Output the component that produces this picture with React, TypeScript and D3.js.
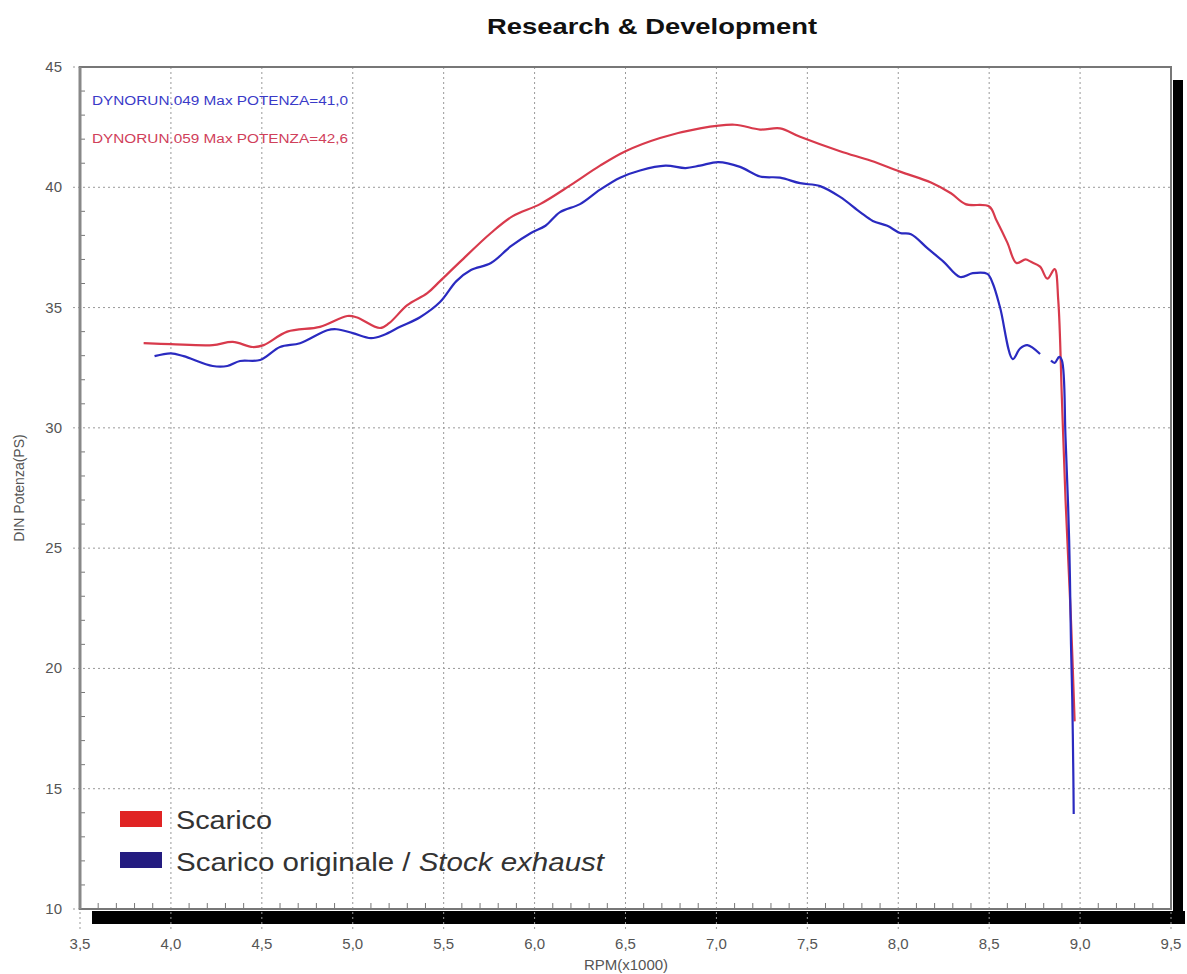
import React from "react";
import * as d3 from "d3";

const title = "Research & Development";
const xLabel = "RPM(x1000)";
const yLabel = "DIN Potenza(PS)";
const xTicks = [3.5, 4.0, 4.5, 5.0, 5.5, 6.0, 6.5, 7.0, 7.5, 8.0, 8.5, 9.0, 9.5];
const yTicks = [10, 15, 20, 25, 30, 35, 40, 45];
const annotations = ["DYNORUN.049  Max POTENZA=41,0", "DYNORUN.059  Max POTENZA=42,6"];
const legendNames = ["Scarico", "Scarico originale / ", "Stock exhaust"];

// Scarico (red)
const redRpm = [3.85, 4.0, 4.23, 4.34, 4.45, 4.51, 4.64, 4.82, 4.97, 5.02, 5.15, 5.2, 5.3, 5.41, 5.48, 5.59, 5.76, 5.88, 6.03, 6.2, 6.36, 6.5, 6.69, 6.91, 7.1, 7.24, 7.35, 7.46, 7.68, 7.85, 8.01, 8.18, 8.29, 8.37, 8.5, 8.54, 8.6, 8.65, 8.7, 8.73, 8.78, 8.82, 8.86, 8.88, 8.9, 8.92, 8.95, 8.97];
const redPs = [33.52, 33.48, 33.44, 33.57, 33.36, 33.44, 34.0, 34.2, 34.65, 34.6, 34.15, 34.35, 35.1, 35.6, 36.1, 36.9, 38.1, 38.8, 39.3, 40.1, 40.9, 41.5, 42.05, 42.45, 42.6, 42.4, 42.45, 42.1, 41.5, 41.1, 40.65, 40.2, 39.75, 39.3, 39.2, 38.63, 37.7, 36.85, 37.0, 36.9, 36.7, 36.2, 36.6, 35.3, 31.2, 27.0, 22.0, 17.8];

// Scarico originale (blue), first segment
const blueRpm1 = [3.91, 4.0, 4.07, 4.23, 4.31, 4.38, 4.49, 4.6, 4.71, 4.86, 4.91, 5.0, 5.1, 5.17, 5.26, 5.37, 5.48, 5.57, 5.65, 5.76, 5.87, 5.98, 6.06, 6.14, 6.25, 6.36, 6.47, 6.58, 6.72, 6.83, 6.91, 7.01, 7.13, 7.24, 7.35, 7.46, 7.57, 7.68, 7.79, 7.86, 7.94, 8.01, 8.07, 8.16, 8.25, 8.34, 8.41, 8.49, 8.52, 8.56, 8.63, 8.67, 8.71, 8.78];
const bluePs1 = [32.98, 33.1, 32.98, 32.57, 32.57, 32.78, 32.82, 33.36, 33.52, 34.06, 34.1, 33.94, 33.73, 33.86, 34.2, 34.6, 35.23, 36.1, 36.56, 36.85, 37.55, 38.1, 38.4, 38.97, 39.3, 39.9, 40.4, 40.7, 40.9, 40.8, 40.9, 41.05, 40.85, 40.45, 40.4, 40.17, 40.05, 39.6, 38.97, 38.6, 38.4, 38.1, 38.05, 37.47, 36.9, 36.27, 36.43, 36.4, 36.0, 35.0, 32.86, 33.3, 33.44, 33.07];
// second segment
const blueRpm2 = [8.84, 8.86, 8.885, 8.9, 8.92, 8.94, 8.95, 8.957, 8.963, 8.965];
const bluePs2 = [32.8, 32.7, 32.95, 32.8, 29.6, 25.3, 21.0, 18.7, 15.5, 13.95];

const W = 1187, H = 974;
const L = 80, R = 1171, T = 67, B = 909;

export default function App() {
  const x = d3.scaleLinear().domain([3.5, 9.5]).range([L, R]);
  const y = d3.scaleLinear().domain([10, 45]).range([B, T]);
  const line = d3
    .line<[number, number]>()
    .x((d) => x(d[0]))
    .y((d) => y(d[1]))
    .curve(d3.curveCatmullRom.alpha(0.5));
  const red = redRpm.map((r, i) => [r, redPs[i]] as [number, number]);
  const blue1 = blueRpm1.map((r, i) => [r, bluePs1[i]] as [number, number]);
  const blue2 = blueRpm2.map((r, i) => [r, bluePs2[i]] as [number, number]);
  const minorX = d3.range(35, 96).map((v) => v / 10).filter((v) => Math.abs(v * 2 - Math.round(v * 2)) > 1e-6);
  const minorY = d3.range(10, 46).filter((v) => v % 5 !== 0);
  const font = "'Liberation Sans', Arial, sans-serif";

  return (
    <svg width={W} height={H} style={{ position: "absolute", left: 0, top: 0, background: "#fff" }} fontFamily={font}>
      <rect x={0} y={0} width={W} height={H} fill="#fff" />
      <text x={487} y={34} fontSize={22} fontWeight="bold" fill="#111" textLength={330} lengthAdjust="spacingAndGlyphs">{title}</text>

      {/* shadow */}
      <rect x={x(3.5) + 12} y={B + 2} width={R - L + 2} height={13} fill="#000" />
      <rect x={R + 2} y={T + 13} width={10} height={B - T + 2} fill="#000" />

      {/* grid */}
      {xTicks.map((t) => (
        <line key={"gx" + t} x1={x(t)} x2={x(t)} y1={T} y2={B + 22} stroke="#999" strokeWidth={1} strokeDasharray="2,3" />
      ))}
      {yTicks.map((t) => (
        <line key={"gy" + t} x1={L - 7} x2={R} y1={y(t)} y2={y(t)} stroke="#999" strokeWidth={1} strokeDasharray="2,3" />
      ))}

      {/* minor ticks */}
      {minorX.map((t) => (
        <line key={"mx" + t} x1={x(t)} x2={x(t)} y1={B} y2={B - 6} stroke="#777" strokeWidth={1} />
      ))}
      {minorY.map((t) => (
        <line key={"my" + t} x1={L} x2={L + 5} y1={y(t)} y2={y(t)} stroke="#777" strokeWidth={1} />
      ))}

      {/* frame */}
      <rect x={L} y={T} width={R - L} height={B - T} fill="none" stroke="#777" strokeWidth={2} />
      <line x1={L} x2={L} y1={T} y2={B} stroke="#888" strokeWidth={3} />

      {/* tick labels */}
      {yTicks.map((t) => (
        <text key={"yl" + t} x={62} y={y(t) + 5} textAnchor="end" fontSize={15} fill="#555">{t}</text>
      ))}
      {xTicks.map((t) => (
        <text key={"xl" + t} x={x(t)} y={949} textAnchor="middle" fontSize={15} fill="#555">{t.toFixed(1).replace(".", ",")}</text>
      ))}
      <text x={626} y={970} textAnchor="middle" fontSize={15} fill="#555">{xLabel}</text>
      <text transform={`translate(24,${y(27.5)}) rotate(-90)`} textAnchor="middle" fontSize={14} fill="#555">{yLabel}</text>

      {/* annotations */}
      <text x={92} y={105} fontSize={12} fill="#3a3ac8" textLength={256} lengthAdjust="spacingAndGlyphs">{annotations[0]}</text>
      <text x={92} y={143} fontSize={12} fill="#d0405a" textLength={256} lengthAdjust="spacingAndGlyphs">{annotations[1]}</text>

      {/* curves */}
      <path d={line(red) || ""} fill="none" stroke="#d83a4c" strokeWidth={2.2} strokeLinejoin="round" />
      <path d={line(blue1) || ""} fill="none" stroke="#2a2ac0" strokeWidth={2.2} strokeLinejoin="round" />
      <path d={line(blue2) || ""} fill="none" stroke="#2a2ac0" strokeWidth={2.2} strokeLinejoin="round" />

      {/* legend */}
      <rect x={120} y={811} width={42} height={16} fill="#e02424" />
      <text x={176} y={829} fontSize={26} fill="#333" textLength={96} lengthAdjust="spacingAndGlyphs">{legendNames[0]}</text>
      <rect x={120} y={852} width={42} height={16} fill="#241c80" />
      <text x={176} y={871} fontSize={26} fill="#333" textLength={428} lengthAdjust="spacingAndGlyphs">
        {legendNames[1]}
        <tspan fontStyle="italic">{legendNames[2]}</tspan>
      </text>
    </svg>
  );
}
